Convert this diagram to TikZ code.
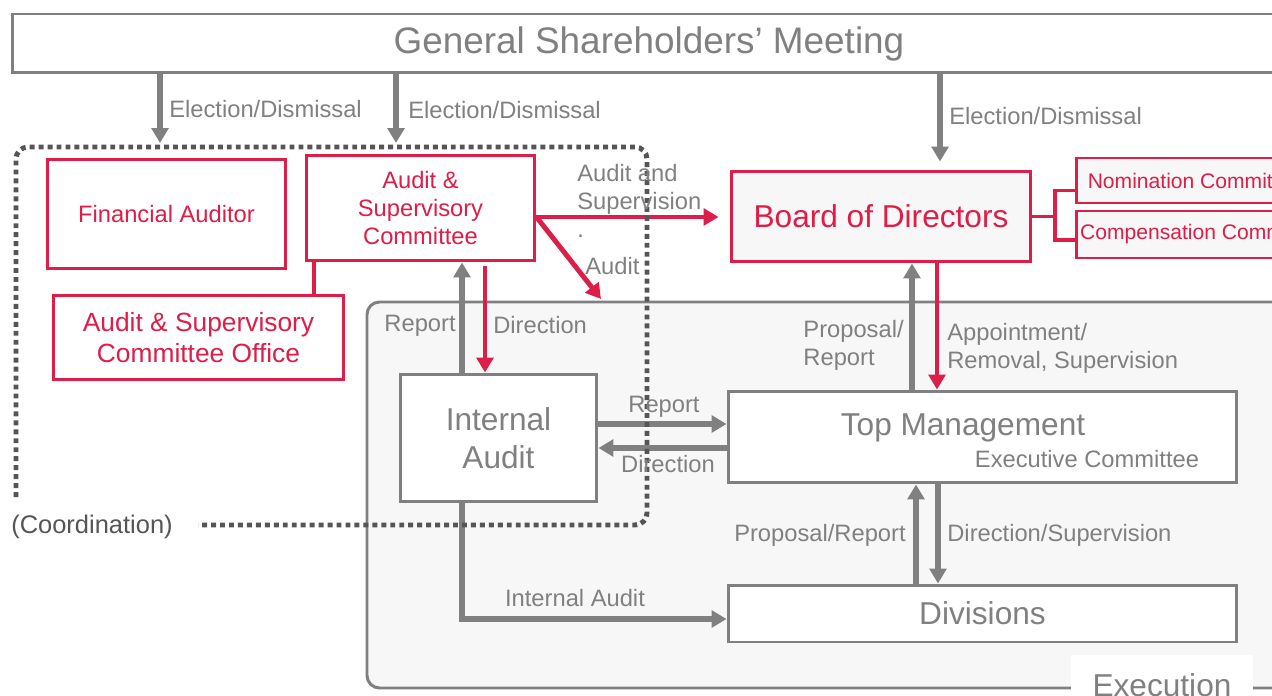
\documentclass[tikz,border=0pt]{standalone}
\usepackage{fontspec}
\setmainfont{Liberation Sans}
\usetikzlibrary{arrows.meta}
\definecolor{jred}{RGB}{220,30,72}
\definecolor{jgray}{RGB}{128,128,128}
\definecolor{jbg}{RGB}{247,247,247}
\definecolor{jdot}{RGB}{85,85,85}

\begin{document}
\begin{tikzpicture}[x=0.02cm,y=-0.02cm]
	\tikzstyle{redbox}=[draw=jred,line width=1.7pt,fill=white,text=jred,align=center,inner sep=0pt,font=\fontsize{13.5}{16.2}\selectfont]
	\tikzstyle{graybox}=[draw=jgray,line width=1.7pt,fill=white,text=jgray,align=center,inner sep=0pt,font=\fontsize{18}{21.5}\selectfont]
	\tikzstyle{lab}=[text=jgray,inner sep=0pt,font=\fontsize{13.5}{16}\selectfont]
	\tikzstyle{garrow}=[draw=jgray,line width=3pt,-{Triangle[width=9.5pt,length=8.5pt]}]
	\tikzstyle{rarrow}=[draw=jred,line width=2.8pt,-{Triangle[width=9.5pt,length=8.5pt]}]
	\tikzstyle{dots}=[draw=jdot,line width=2.8pt,dash pattern=on 2.8pt off 2.3pt,rounded corners=0.24cm]

	\useasboundingbox (0,0) rectangle (1272,696);
	\clip (0,0) rectangle (1272,696);

	% execution area
	\draw[draw=jgray,line width=1.7pt,fill=jbg,rounded corners=0.25cm] (367,302) rectangle (1320,688);
	\node[fill=white,text=jgray,minimum width=3.64cm,minimum height=1.2cm,anchor=north,font=\fontsize{18}{21}\selectfont] (exec) at (1162,655) {Execution};

	% boxes
	\node[graybox,minimum width=25.48cm,minimum height=1.18cm,font=\fontsize{21}{25}\selectfont] (gsm) at (649,43.5) {General Shareholders’ Meeting};
	\node[redbox,minimum width=4.78cm,minimum height=2.2cm] (fa) at (166.5,214) {Financial Auditor};
	\node[redbox,minimum width=4.58cm,minimum height=2.12cm] (asc) at (420.5,208) {Audit \&\\Supervisory\\Committee};
	\node[redbox,minimum width=5.82cm,minimum height=1.7cm,font=\fontsize{15}{18}\selectfont] (asco) at (198.5,337.5) {Audit \& Supervisory\\Committee Office};
	\node[redbox,fill=jbg,minimum width=6cm,minimum height=1.82cm,font=\fontsize{18}{21.5}\selectfont] (bod) at (881,216.5) {Board of Directors};
	\node[redbox,fill=jbg,minimum width=4.74cm,minimum height=0.9cm,anchor=west,font=\fontsize{12}{14}\selectfont] (nom) at (1075,180.5) {Nomination Committee};
	\node[redbox,fill=jbg,minimum width=5.02cm,minimum height=0.94cm,anchor=west,font=\fontsize{12}{14}\selectfont] (comp) at (1075,234.5) {Compensation Committee};
	\node[graybox,minimum width=3.94cm,minimum height=2.56cm] (ia) at (498.5,438) {Internal\\Audit};
	\node[graybox,minimum width=10.18cm,minimum height=1.84cm] (tm) at (982.5,437) {};
	\node[text=jgray,inner sep=0pt,font=\fontsize{18}{21.5}\selectfont] (tmname) at (963,428) {Top Management};
	\node[lab] (excom) at (1087,459) {Executive Committee};
	\node[graybox,minimum width=10.18cm,minimum height=1.14cm] (div) at (982.5,613.5) {Divisions};

	% helper points
	\coordinate (e1) at (160,143);
	\coordinate (e2) at (396,143);
	\coordinate (e3) at (940,0);
	\coordinate (r1) at (462,0);
	\coordinate (r2) at (485,0);
	\coordinate (h1) at (0,217);
	\coordinate (auditend) at (601,299);
	\coordinate (p1) at (912,0);
	\coordinate (p2) at (937,0);
	\coordinate (h2) at (0,424);
	\coordinate (h3) at (0,448);
	\coordinate (p3) at (916,0);
	\coordinate (p4) at (938,0);
	\coordinate (h4) at (0,619);
	\coordinate (k1) at (314,0);
	\coordinate (brk) at (1055,216.5);

	% connectors
	\draw[garrow] (gsm.south -| e1) -- (e1);
	\draw[garrow] (gsm.south -| e2) -- (e2);
	\draw[garrow,shorten >=0.16cm] (gsm.south -| e3) -- (bod.north -| e3);
	\draw[draw=jred,line width=2.2pt] (asc.south -| k1) -- (asco.north -| k1);
	\draw[garrow] (ia.north -| r1) -- (asc.south -| r1);
	\draw[rarrow,shorten <=0.08cm] (asc.south -| r2) -- (ia.north -| r2);
	\draw[rarrow,shorten >=0.22cm] (asc.east |- h1) -- (bod.west |- h1);
	\draw[rarrow] (asc.east |- h1) -- (auditend);
	\draw[draw=jred,line width=2.2pt] (bod.east) -- (brk) |- ([yshift=-0.2cm]nom.west);
	\draw[draw=jred,line width=2.2pt] (brk) |- ([yshift=-0.11cm]comp.west);
	\draw[garrow] (tm.north -| p1) -- (bod.south -| p1);
	\draw[rarrow] (bod.south -| p2) -- (tm.north -| p2);
	\draw[garrow] (ia.east |- h2) -- (tm.west |- h2);
	\draw[garrow] (tm.west |- h3) -- (ia.east |- h3);
	\draw[garrow] (div.north -| p3) -- (tm.south -| p3);
	\draw[garrow] (tm.south -| p4) -- (div.north -| p4);
	\draw[garrow] (ia.south -| r1) |- (div.west |- h4);

	% coordination
	\node[text=jdot,inner sep=0pt,font=\fontsize{14.5}{17}\selectfont] (coord) at (92,527) {(Coordination)};
	\coordinate (dotend) at (198,525);
	\draw[dots] (16,497) -- (16,147) -- (647,147) -- (647,525) -- (dotend);

	% labels
	\node[lab,anchor=west] (el1) at (169,109) {Election/Dismissal};
	\node[lab,anchor=west] (el2) at (408,110) {Election/Dismissal};
	\node[lab,anchor=west] (el3) at (949,116) {Election/Dismissal};
	\node[lab,anchor=east] (rep1) at (456,326) {Report};
	\node[lab,anchor=west] (dir1) at (493,325) {Direction};
	\node[lab,align=left,anchor=north west] (audsup) at (577,164) {Audit and\\Supervision\\.};
	\node[lab,anchor=west] (aud) at (585,266) {Audit};
	\node[lab,align=left,anchor=east] (prop1) at (904,345) {Proposal/\\Report};
	\node[lab,align=left,anchor=west] (appt) at (947,348) {Appointment/\\Removal, Supervision};
	\node[lab] (rep2) at (664,407) {Report};
	\node[lab] (dir2) at (668,464) {Direction};
	\node[lab,anchor=east] (prop2) at (906,535) {Proposal/Report};
	\node[lab,anchor=west] (dirsup) at (947,535) {Direction/Supervision};
	\node[lab] (iaud) at (575,598) {Internal Audit};
\end{tikzpicture}
\end{document}
